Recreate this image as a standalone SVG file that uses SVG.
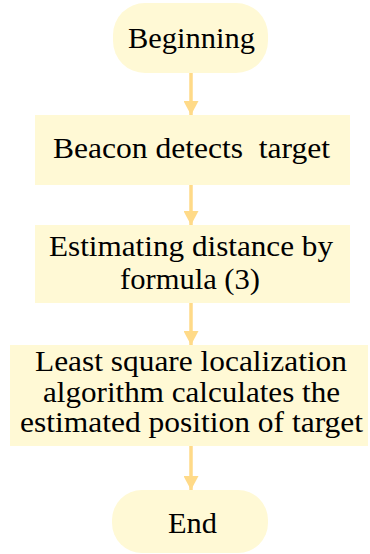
<svg xmlns="http://www.w3.org/2000/svg" width="370" height="554" viewBox="0 0 370 554">
<defs>
<style>
.box{fill:#FFF9D5;stroke:none}
.lbl{font-family:"Liberation Serif","Times New Roman",serif;font-size:29px;fill:#000;text-anchor:middle}
.conn{stroke:#FFDA88;stroke-width:3.5;fill:none}
.head{fill:#FFDA88}
</style>
<marker id="ah" markerUnits="userSpaceOnUse" markerWidth="16" markerHeight="15" refX="15" refY="8" orient="auto" viewBox="0 0 15 16">
<polygon class="head" points="0,0 15,8 0,16"/>
</marker>
</defs>
<rect width="370" height="554" fill="#fff"/>
<g id="connectors">
<line class="conn" x1="191" y1="73" x2="191" y2="115" marker-end="url(#ah)"/>
<line class="conn" x1="191" y1="185" x2="191" y2="225" marker-end="url(#ah)"/>
<line class="conn" x1="191" y1="303" x2="191" y2="345" marker-end="url(#ah)"/>
<line class="conn" x1="191" y1="446" x2="191" y2="490" marker-end="url(#ah)"/>
</g>
<g id="beginning">
<rect class="box" x="113" y="3" width="155" height="70" rx="32"/>
<text class="lbl" x="191.5" y="48" textLength="127" lengthAdjust="spacingAndGlyphs">Beginning</text>
</g>
<g id="detect">
<rect class="box" x="35" y="115" width="315" height="70"/>
<text class="lbl" x="191.5" y="158" textLength="277" lengthAdjust="spacingAndGlyphs" xml:space="preserve">Beacon detects  target</text>
</g>
<g id="estimate">
<rect class="box" x="35" y="225" width="315" height="78"/>
<text class="lbl" x="191" y="256" textLength="284" lengthAdjust="spacingAndGlyphs">Estimating distance by</text>
<text class="lbl" x="190" y="289" textLength="140" lengthAdjust="spacingAndGlyphs">formula (3)</text>
</g>
<g id="localize">
<rect class="box" x="10" y="345" width="358" height="101"/>
<text class="lbl" x="191" y="371" textLength="312" lengthAdjust="spacingAndGlyphs">Least square localization</text>
<text class="lbl" x="191.5" y="402" textLength="297" lengthAdjust="spacingAndGlyphs">algorithm calculates the</text>
<text class="lbl" x="191.5" y="432" textLength="343" lengthAdjust="spacingAndGlyphs">estimated position of target</text>
</g>
<g id="end">
<rect class="box" x="112" y="490" width="156" height="63" rx="30"/>
<text class="lbl" x="192.5" y="533" textLength="49" lengthAdjust="spacingAndGlyphs">End</text>
</g>
</svg>
